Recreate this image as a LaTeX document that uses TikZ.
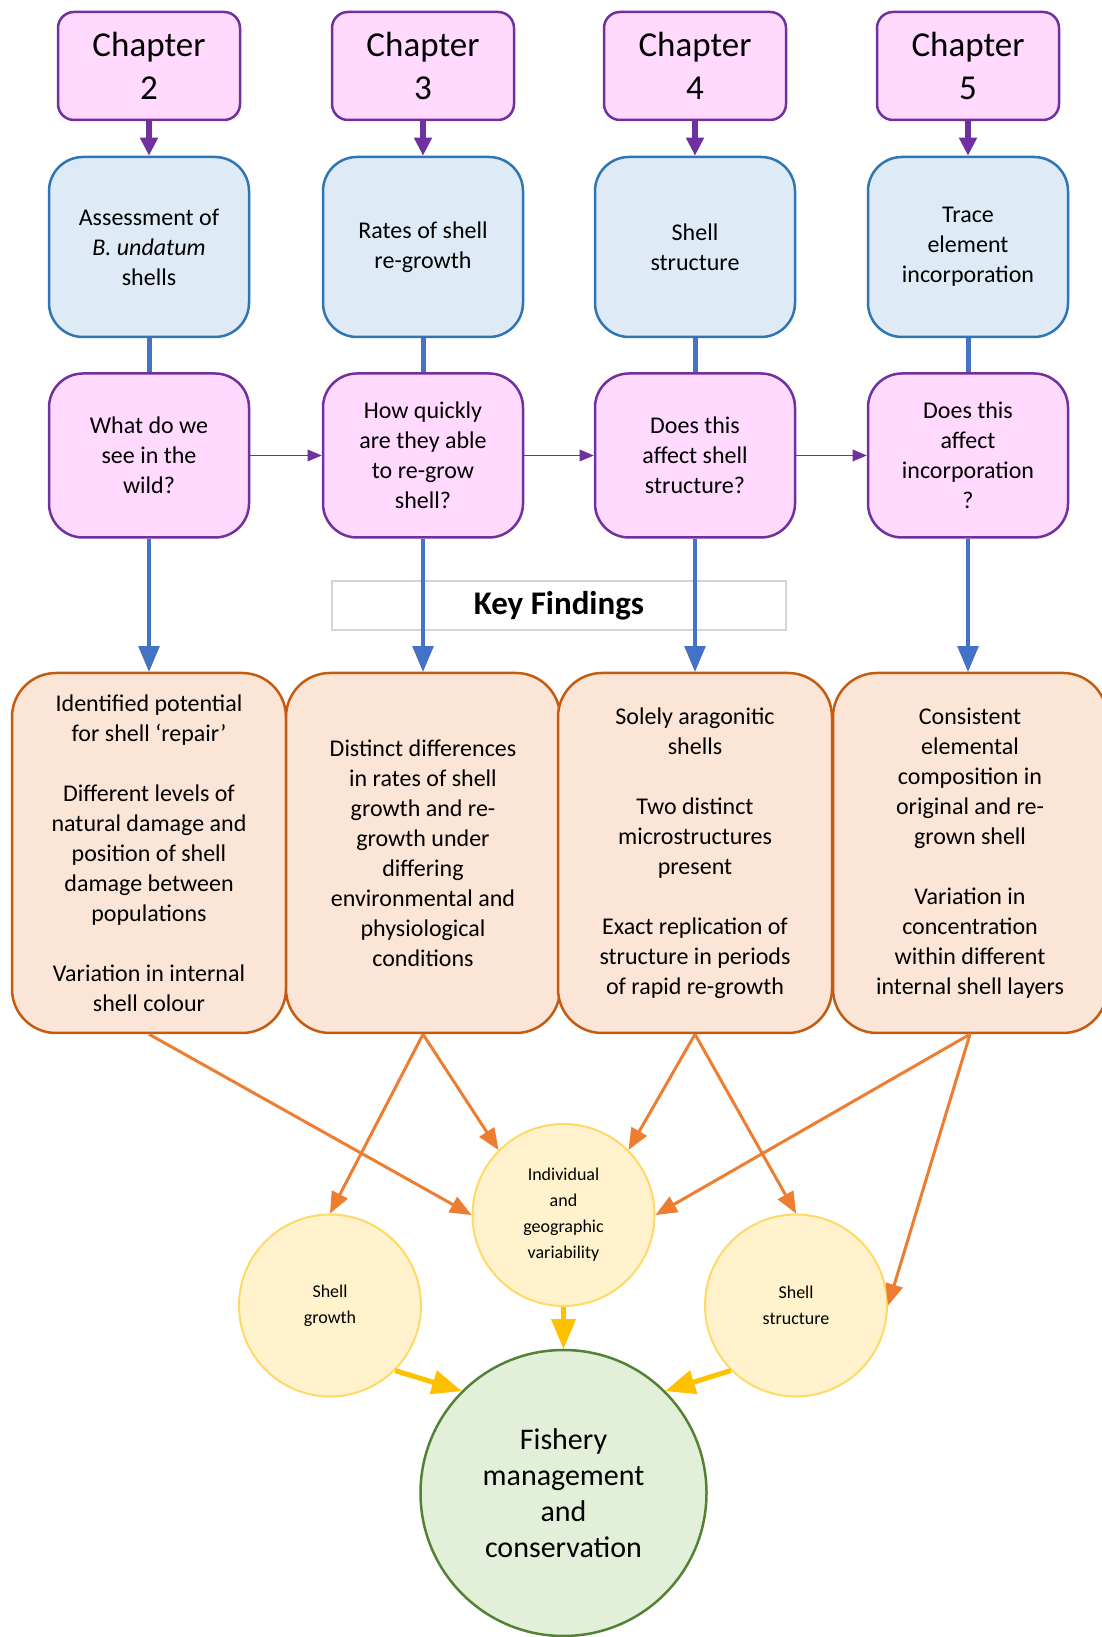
\documentclass[tikz,border=0pt]{standalone}
\usepackage{fontspec}
\setmainfont{Carlito}
\usepackage{tikz}
\usetikzlibrary{arrows,arrows.meta}

\definecolor{chfill}{HTML}{FFD9FE}
\definecolor{chline}{HTML}{7030A0}
\definecolor{topfill}{HTML}{DEEBF7}
\definecolor{topline}{HTML}{2E75B6}
\definecolor{arrblue}{HTML}{4472C4}
\definecolor{findfill}{HTML}{FBE5D6}
\definecolor{findline}{HTML}{C55A11}
\definecolor{arrorange}{HTML}{ED7D31}
\definecolor{themefill}{HTML}{FFF2CC}
\definecolor{themeline}{HTML}{FFD966}
\definecolor{arryellow}{HTML}{FFC000}
\definecolor{goalfill}{HTML}{E2F0D9}
\definecolor{goalline}{HTML}{548235}

\begin{document}
\begin{tikzpicture}
[>=triangle 45, x=50pt, y=50pt,
 chapter/.style={draw=chline, fill=chfill, line width=1.25pt, rounded corners=8pt,
   minimum width=91pt, minimum height=54pt, align=center,
   font=\fontsize{17.5}{21.5}\selectfont},
 topic/.style={draw=topline, fill=topfill, line width=1.25pt, rounded corners=17pt,
   minimum width=100pt, minimum height=90pt, align=center,
   font=\fontsize{12}{15}\selectfont},
 question/.style={topic, draw=chline, fill=chfill, minimum height=82pt},
 finding/.style={draw=findline, fill=findfill, line width=1.25pt, rounded corners=22pt,
   minimum width=137pt, minimum height=180pt, align=center,
   font=\fontsize{12}{15}\selectfont},
 theme/.style={circle, draw=themeline, fill=themefill, line width=1pt, inner sep=0pt,
   minimum size=91pt, align=center, font=\fontsize{9}{13}\selectfont},
 goal/.style={circle, draw=goalline, fill=goalfill, line width=1.25pt, inner sep=0pt,
   minimum size=143pt, align=center, font=\fontsize{15}{18}\selectfont}]

	\useasboundingbox (0,0) rectangle (11.02,16.37);

	% chapters
	\node[chapter] (ch2) at (1.49,15.71) {Chapter\\2};
	\node[chapter] (ch3) at (4.23,15.71) {Chapter\\3};
	\node[chapter] (ch4) at (6.95,15.71) {Chapter\\4};
	\node[chapter] (ch5) at (9.68,15.71) {Chapter\\5};

	\node[topic] (t2) at (1.49,13.90) {Assessment of\\\textit{B. undatum}\\shells};
	\node[topic] (t3) at (4.23,13.90) {Rates of shell\\re-growth};
	\node[topic] (t4) at (6.95,13.90) {Shell\\structure};
	\node[topic] (t5) at (9.68,13.90) {Trace\\element\\incorporation};

	\node[question] (q2) at (1.49,11.815) {What do we\\see in the\\wild?};
	\node[question] (q3) at (4.23,11.815) {How quickly\\are they able\\to re-grow\\shell?};
	\node[question] (q4) at (6.95,11.815) {Does this\\affect shell\\structure?};
	\node[question] (q5) at (9.68,11.815) {Does this\\affect\\incorporation\\?};

	\node[draw=black!17, line width=1pt, fill=white, minimum width=227pt, minimum height=24.5pt,
	  font=\bfseries\fontsize{16.5}{19}\selectfont] (key) at (5.59,10.315) {Key Findings};

	% findings
	\node[finding] (f2) at (1.49,7.84)
	{Identified potential\\for shell ‘repair’\\[15pt]
	 Different levels of\\natural damage and\\position of shell\\damage between\\populations\\[15pt]
	 Variation in internal\\shell colour};
	\node[finding] (f3) at (4.23,7.84)
	{Distinct differences\\in rates of shell\\growth and re-\\growth under\\differing\\environmental and\\physiological\\conditions};
	\node[finding] (f4) at (6.95,7.84)
	{Solely aragonitic\\shells\\[15pt]
	 Two distinct\\microstructures\\present\\[15pt]
	 Exact replication of\\structure in periods\\of rapid re-growth};
	\node[finding] (f5) at (9.70,7.84)
	{Consistent\\elemental\\composition in\\original and re-\\grown shell\\[15pt]
	 Variation in\\concentration\\within different\\internal shell layers};

	\node[theme] (indiv) at (5.635,4.22) {Individual\\and\\geographic\\variability};
	\node[theme] (growth) at (3.30,3.315) {Shell\\growth};
	\node[theme] (struct) at (7.96,3.315) {Shell\\structure};
	\node[goal] (fish) at (5.635,1.44) {Fishery\\management\\and\\conservation};

	\draw[line width=2.6pt, -{Triangle[length=9pt,width=8.5pt]}, chline] (ch2) -- (t2);
	\draw[line width=2.6pt, -{Triangle[length=9pt,width=8.5pt]}, chline] (ch3) -- (t3);
	\draw[line width=2.6pt, -{Triangle[length=9pt,width=8.5pt]}, chline] (ch4) -- (t4);
	\draw[line width=2.6pt, -{Triangle[length=9pt,width=8.5pt]}, chline] (ch5) -- (t5);

	\draw[line width=2.5pt, arrblue] (t2) -- (q2);
	\draw[line width=2.5pt, arrblue] (t3) -- (q3);
	\draw[line width=2.5pt, arrblue] (t4) -- (q4);
	\draw[line width=2.5pt, arrblue] (t5) -- (q5);

	\draw[line width=0.6pt, ->, chline] (q2) -- (q3);
	\draw[line width=0.6pt, ->, chline] (q3) -- (q4);
	\draw[line width=0.6pt, ->, chline] (q4) -- (q5);

	\draw[line width=2pt, ->, arrblue] (q2) -- (q2 |- f2.north);
	\draw[line width=2pt, ->, arrblue] (q3) -- (q3 |- f3.north);
	\draw[line width=2pt, ->, arrblue] (q4) -- (q4 |- f4.north);
	\draw[line width=2pt, ->, arrblue] (q5) -- (q5 |- f5.north);

	\draw[line width=1.5pt, ->, arrorange] (f2.south) -- (indiv.west);
	\draw[line width=1.5pt, ->, arrorange] (f3.south) -- (growth.north);
	\draw[line width=1.5pt, ->, arrorange] (f3.south) -- (indiv.north west);
	\draw[line width=1.5pt, ->, arrorange] (f4.south) -- (indiv.north east);
	\draw[line width=1.5pt, ->, arrorange] (f4.south) -- (struct.north);
	\draw[line width=1.5pt, ->, arrorange] (f5.south) -- (indiv.east);
	\draw[line width=1.5pt, ->, arrorange] (f5.south) -- (struct.east);

	\draw[line width=2.5pt, ->, arryellow] (indiv) -- (fish);
	\draw[line width=2.5pt, ->, arryellow] (growth.south east) -- (fish.north west);
	\draw[line width=2.5pt, ->, arryellow] (struct.south west) -- (fish.north east);
\end{tikzpicture}
\end{document}
